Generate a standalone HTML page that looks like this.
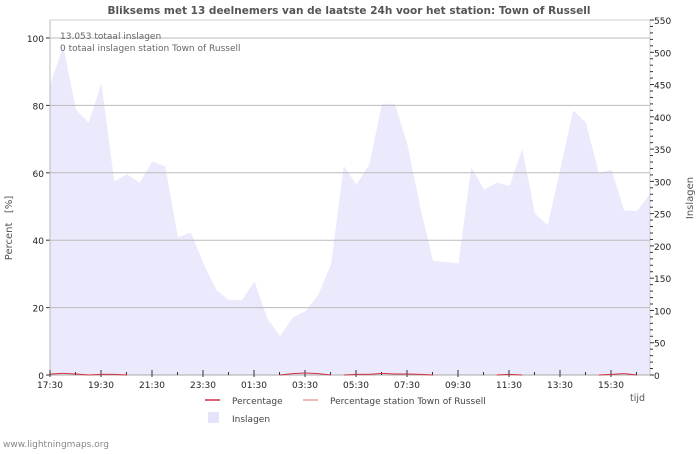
<!DOCTYPE html>
<html><head><meta charset="utf-8"><style>
body{margin:0;background:#fff;width:700px;height:450px;overflow:hidden;font-family:"DejaVu Sans","Liberation Sans",sans-serif}
text{font-family:"DejaVu Sans","Liberation Sans",sans-serif;white-space:pre}
</style></head><body>
<svg id="chart" width="700" height="450" xmlns="http://www.w3.org/2000/svg"></svg>
<script>
const timeLabels=["17:30","19:30","21:30","23:30","01:30","03:30","05:30","07:30","09:30","11:30","13:30","15:30"];
const strikes=[452,509,411,391,452,300,311,298,331,323,213,221,173,132,116,116,145,88,60,89,99,124,171,324,295,326,420,420,357,260,177,175,173,322,287,298,293,350,250,232,320,410,391,313,318,255,254,280];
const percentage=[0.3,0.5,0.3,0,0.2,0.2,0,0,0,0,0,0,0,0,0,0,0,0,0,0.4,0.6,0.4,0,0,0.2,0.2,0.5,0.3,0.3,0.2,0,0,0,0,0,0,0.2,0,0,0,0,0,0,0,0.2,0.4,0,0];
const percentageStation=[];
const leftTicks=[0,20,40,60,80,100];
const rightTicks=[0,50,100,150,200,250,300,350,400,450,500,550];

const svg=document.getElementById('chart');
const NS='http://www.w3.org/2000/svg';
const X0=50,X1=650,Y0=375,YT=20;
const xIdx=i=>50.5+i*12.75;
const yPct=v=>Y0-v*3.37;
const yStr=v=>Y0-v*(Y0-YT)/550;
function mk(tag,attrs,parent){const e=document.createElementNS(NS,tag);for(const k in attrs)e.setAttribute(k,attrs[k]);(parent||svg).appendChild(e);return e;}

let t=mk('text',{x:349,y:14,'text-anchor':'middle','font-size':10.5,'font-weight':'bold',fill:'#555'});

t.textContent='Bliksems met 13 deelnemers van de laatste 24h voor het station: Town of Russell';

let d='M'+xIdx(0)+','+Y0;
strikes.forEach((v,i)=>{d+=' L'+Math.min(xIdx(i),X1)+','+yStr(v);});
d+=' L'+Math.min(xIdx(strikes.length-1),X1)+','+Y0+' Z';
let area=mk('path',{d:d,fill:'#ebeafd'});


leftTicks.forEach(v=>{
  if(v>0){let g=mk('line',{x1:X0,x2:X1,y1:yPct(v),y2:yPct(v),stroke:'#bbb','stroke-width':1});
  }
  let tk=mk('line',{x1:X0-4,x2:X0,y1:yPct(v),y2:yPct(v),stroke:'#333'});
  
  let l=mk('text',{x:X0-6,y:yPct(v)+4,'text-anchor':'end','font-size':9,fill:'#222'});
  
  l.textContent=v;
});
let fr=mk('rect',{x:X0,y:YT,width:X1-X0,height:Y0-YT,fill:'none',stroke:'#ccc'});

mk('line',{x1:X0,x2:X0,y1:YT,y2:Y0,stroke:'#bbb'});
mk('line',{x1:X0,x2:X1,y1:Y0,y2:Y0,stroke:'#aaa'});

for(let v=0;v<=550;v+=10){
  const big=v%50===0;
  mk('line',{x1:X1,x2:X1+(big?4:3),y1:yStr(v),y2:yStr(v),stroke:'#333'});
}
rightTicks.forEach(v=>{
  let l=mk('text',{x:X1+4,y:yStr(v)+4,'font-size':9,fill:'#222'});
  
  l.textContent=v;
});
for(let h=0;h<=23;h++){
  const x=X0+h*25.5;
  mk('line',{x1:x,x2:x,y1:Y0-(h%2===0?5:3),y2:Y0+(h%2===0?2:0),stroke:'#333'});
}
timeLabels.forEach((s,i)=>{
  let l=mk('text',{x:X0+i*51,y:388,'text-anchor':'middle','font-size':9,fill:'#222'});
  
  l.textContent=s;
});

for(let i=0;i<percentage.length-1;i++){
  if(percentage[i]>0||percentage[i+1]>0){
    let s=mk('line',{x1:xIdx(i),y1:yPct(percentage[i]),x2:xIdx(i+1),y2:yPct(percentage[i+1]),stroke:'#d03040','stroke-width':1});
    
  }
}

function txt(x,y,s,name,extra){let e=mk('text',Object.assign({x:x,y:y,'font-size':9,fill:'#444'},extra||{}));e.textContent=s;return e;}
txt(60,39,'13.053 totaal inslagen','total-strikes-note',{fill:'#666'});
txt(60,51,'0 totaal inslagen station Town of Russell','station-strikes-note',{fill:'#666'});
txt(12,228,'Percent   [%]','y-axis-title',{transform:'rotate(-90 12 228)','text-anchor':'middle',fill:'#555','font-size':10});
txt(693,198,'Inslagen','right-axis-title',{transform:'rotate(-90 693 198)','text-anchor':'middle',fill:'#555','font-size':10});
txt(630,401,'tijd','x-axis-title',{fill:'#555','font-size':9.5});

let g1=mk('g',{});
mk('line',{x1:205,x2:220,y1:400,y2:400,stroke:'#d03040','stroke-width':1.5},g1);
txt(232,404,'Percentage','legend-label');
let g2=mk('g',{});
mk('line',{x1:303,x2:318,y1:400,y2:400,stroke:'#f0a0a0','stroke-width':1.5},g2);
txt(330,404,'Percentage station Town of Russell','legend-label');
let g3=mk('g',{});
mk('rect',{x:208,y:412,width:11,height:11,fill:'#e4e3fc'},g3);
txt(232,422,'Inslagen','legend-label');
txt(3,447,'www.lightningmaps.org','footer-credit',{fill:'#888','font-size':9});
</script>
</body></html>
